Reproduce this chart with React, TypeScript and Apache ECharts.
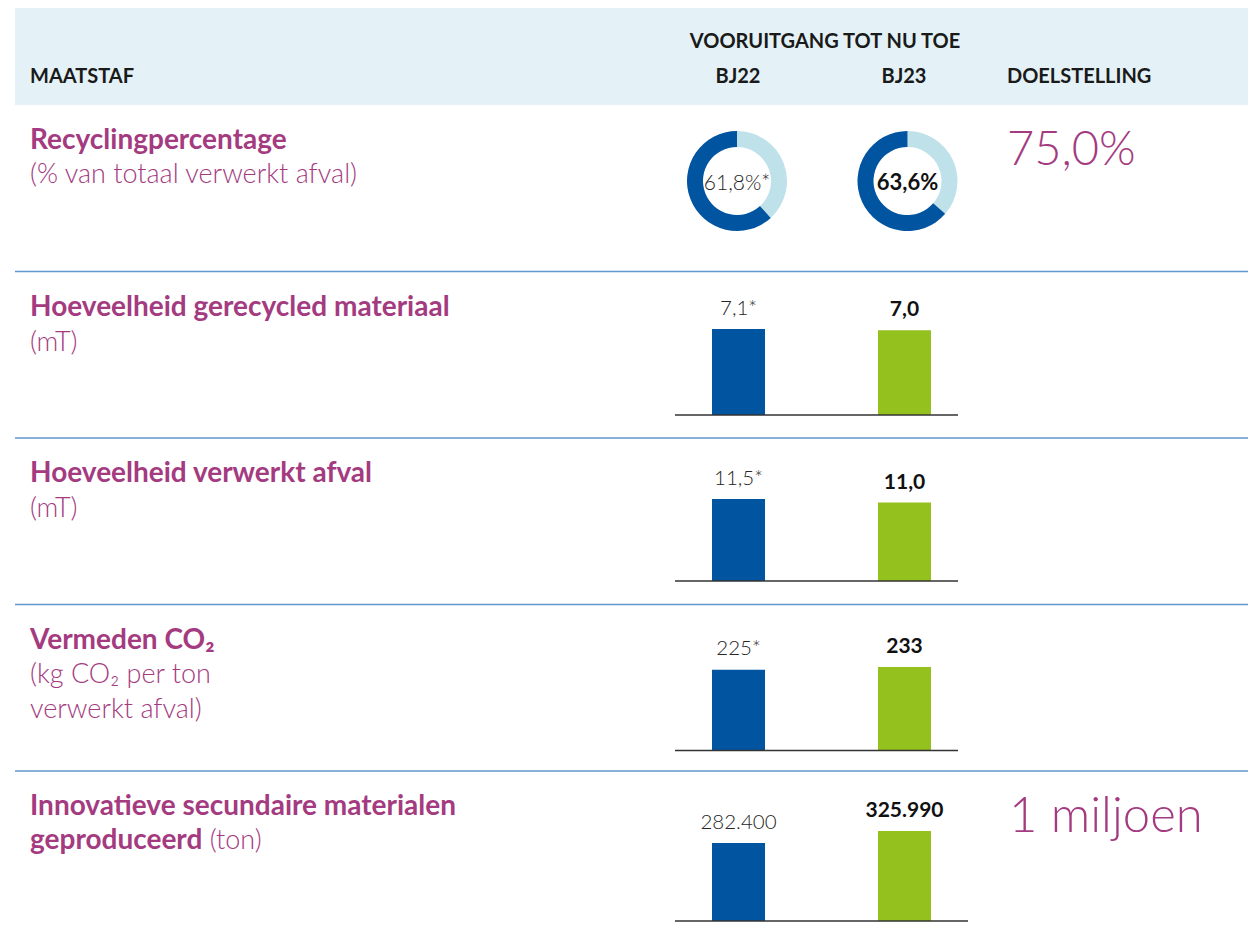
import React, { useEffect, useRef } from 'react';
import * as echarts from 'echarts';

// ---- Data ----
const years = ['BJ22', 'BJ23'];
const recyclingPct = [61.8, 63.6];
const recyclingTarget = '75,0%';
const recycledMaterial = [7.1, 7.0];
const processedWaste = [11.5, 11.0];
const avoidedCO2 = [225, 233];
const secondaryMaterials = [282400, 325990];
const secondaryTarget = '1 miljoen';

const FONT = 'Lato, "Noto Sans", "Open Sans", sans-serif';
const MAGENTA = '#a43b80';
const BLUE = '#0054a0';
const GREEN = '#95c11f';
const LIGHT = '#bfe1ea';
const LIGHT_LABEL = '#262626';

function nl(v: number, dec: number): string {
  const s = v.toFixed(dec);
  const [i, d] = s.split('.');
  const ii = i.replace(/\B(?=(\d{3})+(?!\d))/g, '.');
  return d ? ii + ',' + d : ii;
}

const barRows = [
  { values: recycledMaterial, dec: 1, star: true, top: 329, height: 86, lineEnd: 958 },
  { values: processedWaste, dec: 1, star: true, top: 499, height: 82, lineEnd: 958 },
  { values: avoidedCO2, dec: 0, star: true, top: 667, height: 83.5, lineEnd: 958 },
  { values: secondaryMaterials, dec: 0, star: false, top: 831, height: 90, lineEnd: 968 },
];

function txt(text: string, x: number, y: number, size: number, weight: any, fill: string, align = 'left') {
  return {
    type: 'text',
    x,
    y,
    silent: true,
    style: {
      text,
      fontSize: size,
      fontWeight: weight,
      fontFamily: FONT,
      fill,
      align,
      verticalAlign: 'middle',
    },
  };
}

const TITLE = 28;
const SUB = 27;
const HEAD = 20;

export default function App() {
  const ref = useRef<HTMLDivElement>(null);
  useEffect(() => {
    document.body.style.margin = '0';
    const chart = echarts.init(ref.current!, undefined, { renderer: 'svg' });

    const grids: any[] = [];
    const xAxes: any[] = [];
    const yAxes: any[] = [];
    const series: any[] = [];
    const graphics: any[] = [];

    // header band
    graphics.push({ type: 'rect', shape: { x: 15, y: 8, width: 1233, height: 97 }, style: { fill: '#e4f2f7' }, silent: true });
    graphics.push(txt('VOORUITGANG TOT NU TOE', 825, 40, HEAD, 'bold', '#1a1a1a', 'center'));
    graphics.push(txt('MAATSTAF', 30, 75, HEAD, 'bold', '#1a1a1a'));
    graphics.push(txt(years[0], 738, 75, HEAD, 'bold', '#1a1a1a', 'center'));
    graphics.push(txt(years[1], 904, 75, HEAD, 'bold', '#1a1a1a', 'center'));
    graphics.push(txt('DOELSTELLING', 1007, 75, HEAD, 'bold', '#1a1a1a'));

    // separators
    [271.5, 438, 604.5, 771].forEach((y) => {
      graphics.push({ type: 'line', shape: { x1: 15, y1: y, x2: 1248, y2: y }, style: { stroke: '#5f97cf', lineWidth: 1.5 }, silent: true });
    });

    // left labels
    graphics.push(txt('Recyclingpercentage', 30, 138, TITLE, 'bold', MAGENTA));
    graphics.push(txt('(% van totaal verwerkt afval)', 30, 172, SUB, 300, MAGENTA));
    graphics.push(txt('Hoeveelheid gerecycled materiaal', 30, 305, TITLE, 'bold', MAGENTA));
    graphics.push(txt('(mT)', 30, 340, SUB, 300, MAGENTA));
    graphics.push(txt('Hoeveelheid verwerkt afval', 30, 471, TITLE, 'bold', MAGENTA));
    graphics.push(txt('(mT)', 30, 506, SUB, 300, MAGENTA));
    graphics.push(txt('Vermeden CO₂', 30, 638, TITLE, 'bold', MAGENTA));
    graphics.push(txt('(kg CO₂ per ton', 30, 672, SUB, 300, MAGENTA));
    graphics.push(txt('verwerkt afval)', 30, 707, SUB, 300, MAGENTA));
    graphics.push(txt('Innovatieve secundaire materialen', 30, 804, TITLE, 'bold', MAGENTA));
    graphics.push({
      type: 'text',
      x: 30,
      y: 838,
      silent: true,
      style: {
        text: '{b|geproduceerd}{l| (ton)}',
        verticalAlign: 'middle',
        rich: {
          b: { fontSize: TITLE, fontWeight: 'bold', fontFamily: FONT, fill: MAGENTA, color: MAGENTA },
          l: { fontSize: SUB, fontWeight: 300, fontFamily: FONT, fill: MAGENTA, color: MAGENTA },
        },
      },
    });

    // targets
    graphics.push(txt(recyclingTarget, 1007, 147, 47, 300, MAGENTA));
    graphics.push(txt(secondaryTarget, 1009, 813, 49, 300, MAGENTA));

    // donuts
    const donutCenters = [737, 907.5];
    recyclingPct.forEach((p, j) => {
      series.push({
        type: 'pie',
        center: [donutCenters[j], 181],
        radius: [34, 50],
        startAngle: 90,
        clockwise: true,
        silent: true,
        emphasis: { disabled: true },
        labelLine: { show: false },
        data: [
          { value: +(100 - p).toFixed(1), name: years[j] + ' rest', itemStyle: { color: LIGHT }, label: { show: false } },
          {
            value: p,
            name: years[j],
            itemStyle: { color: BLUE },
            label: {
              show: true,
              position: 'center',
              formatter: () => nl(p, 1) + '%' + (j === 0 ? '*' : ''),
              fontSize: j === 0 ? 21 : 22,
              fontWeight: j === 0 ? 300 : 'bold',
              fontFamily: FONT,
              color: j === 0 ? LIGHT_LABEL : '#111',
            },
          },
        ],
      });
    });

    // bar rows
    barRows.forEach((row, i) => {
      grids.push({ left: 655.5, width: 332, top: row.top, height: row.height, containLabel: false });
      xAxes.push({
        type: 'category',
        gridIndex: i,
        data: years,
        axisLine: { show: false },
        axisTick: { show: false },
        axisLabel: { show: false },
      });
      yAxes.push({
        type: 'value',
        gridIndex: i,
        min: 0,
        max: 'dataMax',
        show: false,
        splitLine: { show: false },
      });
      series.push({
        type: 'bar',
        xAxisIndex: i,
        yAxisIndex: i,
        barWidth: 53,
        silent: true,
        data: row.values.map((v, j) => ({
          value: v,
          itemStyle: { color: j === 0 ? BLUE : GREEN },
          label: {
            show: true,
            position: 'top',
            distance: 12,
            formatter: () => nl(v, row.dec) + (row.star && j === 0 ? '*' : ''),
            fontSize: j === 0 ? 20.5 : 21,
            fontWeight: j === 0 ? 300 : 'bold',
            fontFamily: FONT,
            color: j === 0 ? LIGHT_LABEL : '#111',
          },
        })),
      });
      const by = row.top + row.height;
      graphics.push({
        type: 'line',
        shape: { x1: 675, y1: by, x2: row.lineEnd, y2: by },
        style: { stroke: '#333', lineWidth: 1.5 },
        silent: true,
        z: 10,
      });
    });

    chart.setOption({
      animation: false,
      backgroundColor: '#fff',
      grid: grids,
      xAxis: xAxes,
      yAxis: yAxes,
      series,
      graphic: { elements: graphics },
    });
    return () => chart.dispose();
  }, []);

  return <div ref={ref} style={{ width: 1248, height: 931 }} />;
}
